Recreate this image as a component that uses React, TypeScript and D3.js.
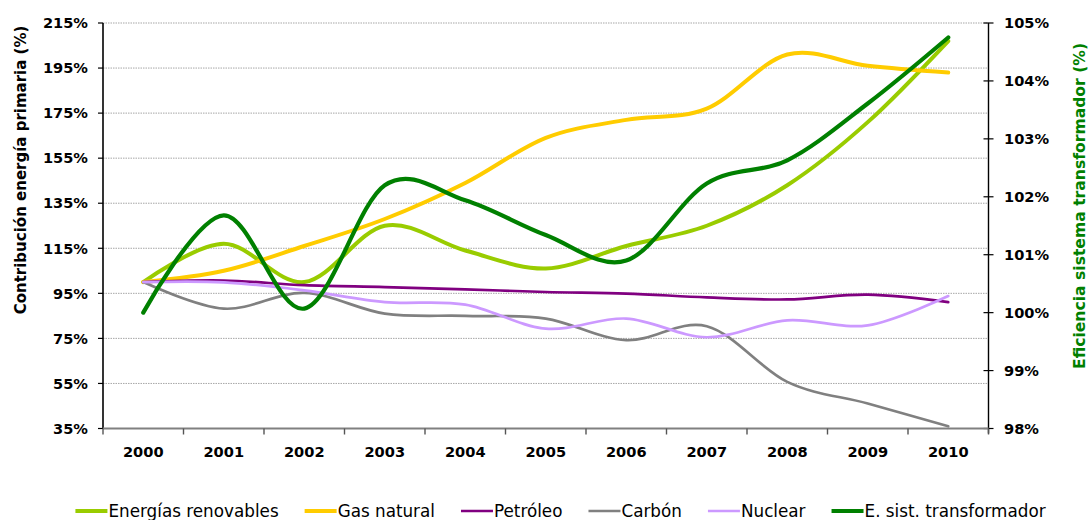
import { useEffect, useRef } from "react"
import * as d3 from "d3"

const years = ["2000", "2001", "2002", "2003", "2004", "2005", "2006", "2007", "2008", "2009", "2010"]

// Contribución energía primaria (%) - eje izquierdo
const renovables = [100, 117, 100, 125, 114, 106, 116, 125, 143, 171, 207]
const gasNatural = [100, 105, 116, 128, 144, 164, 172, 177, 201, 196, 193]
const petroleo = [100, 100.7, 98.6, 97.8, 96.8, 95.6, 94.9, 93.2, 92.3, 94.4, 91.1]
const carbon = [100, 88.2, 95.2, 86, 85, 83.8, 74.2, 80.4, 55.7, 46.1, 36]
const nuclear = [100, 99.9, 96.3, 91.1, 90, 79.3, 83.8, 75.5, 83, 80.8, 93.8]

// Eficiencia sistema transformador (%) - eje derecho
const eSistTransformador = [100.0, 101.68, 100.07, 102.2, 101.94, 101.34, 100.9, 102.23, 102.63, 103.61, 104.75]

const leftTicks = [35, 55, 75, 95, 115, 135, 155, 175, 195, 215]
const rightTicks = [98, 99, 100, 101, 102, 103, 104, 105]

interface Series {
  name: string
  values: number[]
  color: string
  width: number
  axis: "left" | "right"
}

const series: Series[] = [
  { name: "Energías renovables", values: renovables, color: "#99cc00", width: 4, axis: "left" },
  { name: "Gas natural", values: gasNatural, color: "#ffcc00", width: 4, axis: "left" },
  { name: "Petróleo", values: petroleo, color: "#800080", width: 2.7, axis: "left" },
  { name: "Carbón", values: carbon, color: "#808080", width: 2.7, axis: "left" },
  { name: "Nuclear", values: nuclear, color: "#cc99ff", width: 2.7, axis: "left" },
  { name: "E. sist. transformador", values: eSistTransformador, color: "#008000", width: 4.2, axis: "right" },
]

const W = 1091
const H = 520

const App = () => {
  const svgRef = useRef<SVGSVGElement | null>(null)

  useEffect(() => {
    if (!svgRef.current) return
    const svg = d3.select(svgRef.current)
    svg.selectAll("*").remove()

    const plot = { left: 103, right: 988.5, top: 23, bottom: 428.5 }

    const x = d3.scaleBand<string>().domain(years).range([plot.left, plot.right])
    const yL = d3.scaleLinear().domain([35, 215]).range([plot.bottom, plot.top])
    const yR = d3.scaleLinear().domain([98, 105]).range([plot.bottom, plot.top])
    const cx = (d: string) => (x(d) || 0) + x.bandwidth() / 2

    const font = "DejaVu Sans, sans-serif"
    const tickSize = "14.6px"

    // gridlines
    svg
      .append("g")
      .selectAll("line")
      .data(leftTicks.slice(1))
      .join("line")
      .attr("x1", plot.left)
      .attr("x2", plot.right)
      .attr("y1", (d) => yL(d))
      .attr("y2", (d) => yL(d))
      .attr("stroke", "#a6a6a6")
      .attr("stroke-width", 1)
      .attr("stroke-dasharray", "1.5,1")

    // left axis
    const gl = svg.append("g")
    gl.append("line")
      .attr("x1", plot.left)
      .attr("x2", plot.left)
      .attr("y1", plot.top)
      .attr("y2", plot.bottom)
      .attr("stroke", "#000")
      .attr("stroke-width", 1.6)
    gl.selectAll(".t")
      .data(leftTicks)
      .join("line")
      .attr("x1", plot.left - 5)
      .attr("x2", plot.left)
      .attr("y1", (d) => yL(d))
      .attr("y2", (d) => yL(d))
      .attr("stroke", "#000")
      .attr("stroke-width", 1.2)
    gl.selectAll("text")
      .data(leftTicks)
      .join("text")
      .attr("x", 88)
      .attr("y", (d) => yL(d))
      .attr("dy", "0.36em")
      .attr("text-anchor", "end")
      .attr("font-family", font)
      .attr("font-weight", "bold")
      .attr("font-size", tickSize)
      .attr("fill", "#000")
      .text((d) => `${d}%`)

    // right axis
    const gr = svg.append("g")
    gr.append("line")
      .attr("x1", plot.right)
      .attr("x2", plot.right)
      .attr("y1", plot.top)
      .attr("y2", plot.bottom + 5)
      .attr("stroke", "#000")
      .attr("stroke-width", 1.4)
    gr.selectAll(".t")
      .data(rightTicks)
      .join("line")
      .attr("x1", plot.right - 5)
      .attr("x2", plot.right + 5)
      .attr("y1", (d) => yR(d))
      .attr("y2", (d) => yR(d))
      .attr("stroke", "#000")
      .attr("stroke-width", 1.2)
    gr.selectAll("text")
      .data(rightTicks)
      .join("text")
      .attr("x", 1004)
      .attr("y", (d) => yR(d))
      .attr("dy", "0.36em")
      .attr("text-anchor", "start")
      .attr("font-family", font)
      .attr("font-weight", "bold")
      .attr("font-size", tickSize)
      .attr("fill", "#000")
      .text((d) => `${d}%`)

    // bottom axis
    const gb = svg.append("g")
    gb.append("line")
      .attr("x1", plot.left)
      .attr("x2", plot.right)
      .attr("y1", plot.bottom)
      .attr("y2", plot.bottom)
      .attr("stroke", "#808080")
      .attr("stroke-width", 2)
    const bounds = years.map((d) => x(d) || 0).concat([plot.right])
    gb.selectAll(".t")
      .data(bounds)
      .join("line")
      .attr("x1", (d) => d)
      .attr("x2", (d) => d)
      .attr("y1", plot.bottom)
      .attr("y2", plot.bottom + 6)
      .attr("stroke", "#555")
      .attr("stroke-width", 1.4)
    gb.selectAll("text")
      .data(years)
      .join("text")
      .attr("x", (d) => cx(d))
      .attr("y", 457)
      .attr("text-anchor", "middle")
      .attr("font-family", font)
      .attr("font-weight", "bold")
      .attr("font-size", tickSize)
      .attr("fill", "#000")
      .text((d) => d)

    // axis titles
    svg
      .append("text")
      .attr("transform", `translate(26,170) rotate(-90)`)
      .attr("text-anchor", "middle")
      .attr("font-family", font)
      .attr("font-weight", "bold")
      .attr("font-size", "15px")
      .attr("fill", "#000")
      .text("Contribución energía primaria (%)")
    svg
      .append("text")
      .attr("transform", `translate(1085,206) rotate(-90)`)
      .attr("text-anchor", "middle")
      .attr("font-family", font)
      .attr("font-weight", "bold")
      .attr("font-size", "15.6px")
      .attr("fill", "#008000")
      .text("Eficiencia sistema transformador (%)")

    // lines
    const curve = d3.curveCatmullRom.alpha(0)
    series.forEach((s) => {
      const yS = s.axis === "left" ? yL : yR
      const line = d3
        .line<number>()
        .x((_, i) => cx(years[i]))
        .y((d) => yS(d))
        .curve(curve)
      svg
        .append("path")
        .datum(s.values)
        .attr("d", line)
        .attr("fill", "none")
        .attr("stroke", s.color)
        .attr("stroke-width", s.width)
        .attr("stroke-linecap", "round")
        .attr("stroke-linejoin", "round")
    })

    // legend
    const legend = svg.append("g")
    let lx = 0
    series.forEach((s) => {
      const item = legend.append("g").attr("transform", `translate(${lx},0)`)
      item
        .append("line")
        .attr("x1", 0)
        .attr("x2", 32)
        .attr("y1", 0)
        .attr("y2", 0)
        .attr("stroke", s.color)
        .attr("stroke-width", s.width)
      const t = item
        .append("text")
        .attr("x", 33)
        .attr("y", 5.5)
        .attr("font-family", font)
        .attr("font-size", "16.8px")
        .attr("fill", "#000")
        .text(s.name)
      const tw = (t.node() as SVGTextElement).getComputedTextLength()
      lx += 33 + tw + 26
    })
    const total = lx - 26
    legend.attr("transform", `translate(${560.5 - total / 2},511)`)
  }, [])

  return (
    <div style={{ position: "absolute", left: 0, top: 0 }}>
      <svg ref={svgRef} width={W} height={H} style={{ display: "block", background: "#fff" }} />
    </div>
  )
}

export default App
